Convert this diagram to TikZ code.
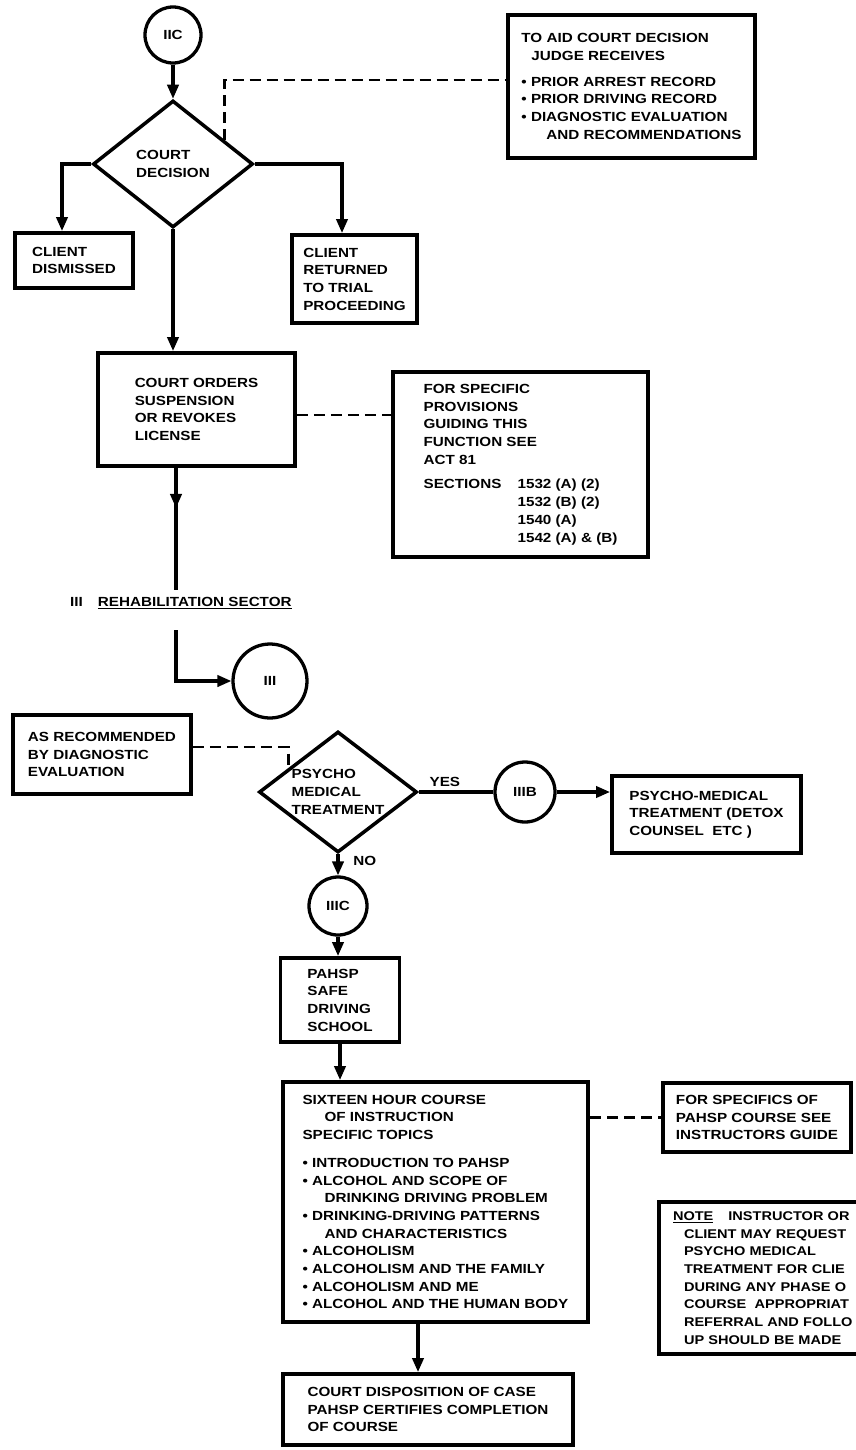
\documentclass[tikz,border=0pt]{standalone}
\usepackage{fontspec}
\setmainfont{Liberation Sans}[FakeStretch=1.15]
\usetikzlibrary{arrows.meta, shapes.geometric}

\begin{document}
\begin{tikzpicture}[x=0.3mm, y=-0.3mm, font=\fontsize{11.3pt}{15.1pt}\selectfont\bfseries]
  % Styles
  \tikzstyle{box} = [draw, rectangle, line width=3.4pt, align=left, inner xsep=2pt, inner ysep=0pt]
  \tikzstyle{connector} = [draw, circle, line width=2.8pt, inner sep=0pt, align=center]
  \tikzstyle{decision} = [draw, diamond, line width=3pt, inner sep=0pt, aspect=1.3, align=left]
  \tikzstyle{flow} = [line width=2.6pt, -{Triangle[length=4.2mm, width=3.4mm]}]
  \tikzstyle{link} = [line width=2.6pt]
  \tikzstyle{dashlink} = [line width=2pt, dash pattern=on 3.3mm off 1.8mm]

  \useasboundingbox (0,0) rectangle (856,1450);
  \clip (0,0) rectangle (856,1450);

  % Court decision
  \node[connector, minimum size=16.8mm] (iic) at (173,35) {IIC};
  \node[decision, minimum width=48mm, minimum height=38.1mm] (court) at (173,164) {COURT\\DECISION};

  \node[box, minimum width=35.4mm, minimum height=16.5mm] (dism) at (74,260.5) {CLIENT\\DISMISSED};
  \node[box, minimum width=37.5mm, minimum height=26.4mm] (ret) at (354.5,279) {CLIENT\\RETURNED\\TO TRIAL\\PROCEEDING};

  \node[box, minimum width=74.1mm, minimum height=42.9mm] (aid) at (631.5,86.5) {
    TO AID COURT DECISION\\
    \hspace*{3mm}JUDGE RECEIVES\\[2.4mm]
    • PRIOR ARREST RECORD\\
    • PRIOR DRIVING RECORD\\
    • DIAGNOSTIC EVALUATION\\
    \hspace*{7.5mm}AND RECOMMENDATIONS
  };

  % Court orders
  \node[box, minimum width=59.1mm, minimum height=33.9mm] (orders) at (196.5,409.5) {COURT ORDERS\\SUSPENSION\\OR REVOKES\\LICENSE};

  \node[box, minimum width=76.5mm, minimum height=55.5mm] (prov) at (520.5,464.5) {
    FOR SPECIFIC\\
    PROVISIONS\\
    GUIDING THIS\\
    FUNCTION SEE\\
    ACT 81\\[2.1mm]
    \makebox[28.2mm][l]{SECTIONS}1532 (A) (2)\\
    \hspace*{28.2mm}1532 (B) (2)\\
    \hspace*{28.2mm}1540 (A)\\
    \hspace*{28.2mm}1542 (A) \& (B)
  };

  % Rehabilitation sector
  \node[anchor=west, inner sep=0pt] (sector) at (70,603) {III\hspace{4.5mm}\underline{REHABILITATION SECTOR}};
  \coordinate (secttop) at (176,590);
  \coordinate (sectbot) at (176,630);

  \node[connector, minimum size=22.2mm] (iii) at (270,681) {III};

  \node[box, minimum width=53.4mm, minimum height=23.7mm] (rec) at (102,754.5) {AS RECOMMENDED\\BY DIAGNOSTIC\\EVALUATION};

  \node[decision, minimum width=47.4mm, minimum height=36.3mm] (psy) at (338,792) {PSYCHO\\MEDICAL\\TREATMENT};

  \node[connector, minimum size=18mm] (iiib) at (525,792) {IIIB};

  \node[box, minimum width=56.7mm, minimum height=23.1mm] (pmt) at (706.5,814.5) {PSYCHO-MEDICAL\\TREATMENT (DETOX\\COUNSEL\ \ ETC )};

  \node[connector, minimum size=17.4mm] (iiic) at (338,906) {IIIC};

  \node[box, minimum width=35.7mm, minimum height=25.2mm] (pahsp) at (340,1000) {PAHSP\\SAFE\\DRIVING\\SCHOOL};

  % Course
  \node[box, minimum width=91.5mm, minimum height=72mm] (course) at (435.5,1202) {
    SIXTEEN HOUR COURSE\\
    \hspace*{6.6mm}OF INSTRUCTION\\
    SPECIFIC TOPICS\\[3mm]
    • INTRODUCTION TO PAHSP\\
    • ALCOHOL AND SCOPE OF\\
    \hspace*{6.6mm}DRINKING DRIVING PROBLEM\\
    • DRINKING-DRIVING PATTERNS\\
    \hspace*{6.6mm}AND CHARACTERISTICS\\
    • ALCOHOLISM\\
    • ALCOHOLISM AND THE FAMILY\\
    • ALCOHOLISM AND ME\\
    • ALCOHOL AND THE HUMAN BODY
  };

  \node[box, minimum width=56.4mm, minimum height=20.7mm] (spec) at (757,1117.5) {FOR SPECIFICS OF\\PAHSP COURSE SEE\\INSTRUCTORS GUIDE};

  % Note (runs off the page edge)
  \node[box, anchor=north west, text width=70mm, inner xsep=4.2mm, minimum height=45.6mm,
        font=\fontsize{10.8pt}{15.1pt}\selectfont\bfseries] (note) at (657,1200) {
    \underline{NOTE}\hspace{4.5mm}INSTRUCTOR OR\\
    \hspace*{3.3mm}CLIENT MAY REQUEST\\
    \hspace*{3.3mm}PSYCHO MEDICAL\\
    \hspace*{3.3mm}TREATMENT FOR CLIE\\
    \hspace*{3.3mm}DURING ANY PHASE O\\
    \hspace*{3.3mm}COURSE\ \ APPROPRIAT\\
    \hspace*{3.3mm}REFERRAL AND FOLLO\\
    \hspace*{3.3mm}UP SHOULD BE MADE
  };

  \node[box, minimum width=87mm, minimum height=21.3mm] (disp) at (428,1409.5) {COURT DISPOSITION OF CASE\\PAHSP CERTIFIES COMPLETION\\OF COURSE};

  % Arrows
  \draw[flow] (iic) -- (court);
  \draw[flow] (court.west) -| ([xshift=-3.6mm]dism.north);
  \draw[flow] (court.east) -| ([xshift=-3.75mm]ret.north);
  \draw[dashlink] (court.25) |- ([yshift=2mm]aid.west);
  \draw[flow] (court.south) -- (court.south |- orders.north);
  \draw[dashlink] ([yshift=-1.65mm]orders.east) -- ([yshift=-1.65mm]orders.east -| prov.west);

  \draw[link] (orders.south -| secttop) -- (secttop);
  \draw[flow] (orders.south -| secttop) -- ++(0,40);
  \draw[flow] (sectbot) |- (iii.west);

  \draw[dashlink] ([yshift=2.2mm]rec.east) -| (psy.154);
  \draw[link] (psy.east) -- node[above, pos=0.35] {YES} (iiib.west);
  \draw[flow] (iiib.east) -- (iiib.east -| pmt.west);
  \draw[flow] (psy.south) -- node[right, pos=0.3, xshift=3mm] {NO} (iiic.north);
  \draw[flow] (iiic) -- (iiic |- pahsp.north);
  \draw[flow] (pahsp.south) -- (pahsp.south |- course.north);
  \draw[dashlink] (spec.west -| course.east) -- (spec.west);
  \draw[flow] ([xshift=-5.25mm]course.south) -- ([xshift=-5.25mm]course.south |- disp.north);

\end{tikzpicture}
\end{document}
